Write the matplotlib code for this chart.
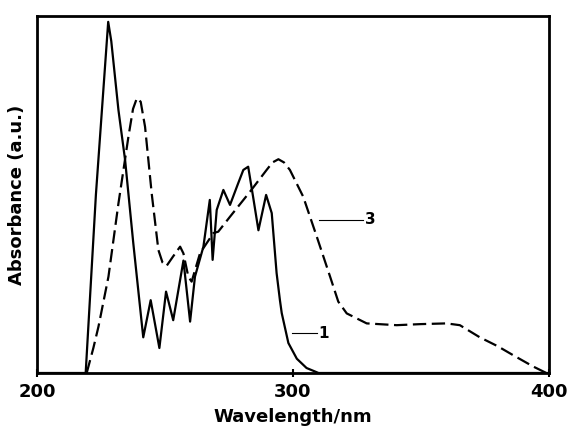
import matplotlib.pyplot as plt

# Curve 1 (solid)
wl_1 = [200, 219, 223, 227.8, 229, 231.8, 234.4, 237.6, 240.9, 241.5, 244.4,
        247.8, 250.4, 253.2, 257.2, 259.8, 261.7, 265, 267.5, 268.6, 270.2,
        272.8, 275.4, 278.5, 280.6, 282.5, 284.5, 286.5, 289.5, 291.7, 293.6,
        294.9, 295.6, 298.2, 301.5, 305.3, 310, 400]
abs_1 = [0, 0, 0.5, 0.984, 0.93, 0.737, 0.597, 0.364, 0.14, 0.10, 0.204,
         0.07, 0.228, 0.148, 0.315, 0.144, 0.27, 0.354, 0.485, 0.317, 0.457,
         0.513, 0.471, 0.53, 0.569, 0.578, 0.49, 0.40, 0.499, 0.448, 0.28,
         0.204, 0.168, 0.084, 0.04, 0.014, 0, 0]

# Curve 3 (dashed)
wl_3 = [219.4, 222, 224, 227.9, 231.8, 235.7, 237.5, 239, 240.5, 242.2, 244.8,
        247.4, 249, 250.6, 253, 255.9, 257.2, 259.1, 260.4, 263.7, 268.9, 270.8,
        275.4, 283.2, 289.7, 292, 294.3, 296.5, 298.8, 304, 309.3, 314.5, 317.7,
        321, 328.8, 340.5, 350, 360, 365.2, 373, 380, 386, 393.9, 399]
abs_3 = [0, 0.07, 0.13, 0.27, 0.475, 0.662, 0.74, 0.77, 0.76, 0.69, 0.503,
         0.345, 0.31, 0.30, 0.325, 0.354, 0.335, 0.27, 0.256, 0.336, 0.392, 0.396,
         0.438, 0.508, 0.569, 0.59, 0.599, 0.59, 0.569, 0.494, 0.382, 0.27, 0.20,
         0.167, 0.139, 0.134, 0.137, 0.139, 0.134, 0.10, 0.075, 0.05, 0.018, 0]

plt.rcParams['font.family'] = ['DejaVu Sans']
plt.rcParams['font.weight'] = 'bold'

fig = plt.figure(figsize=(5.7, 4.36), dpi=100)
ax = fig.add_axes([0.065, 0.1445, 0.898, 0.8185])

ax.plot(wl_1, abs_1, color='black', linewidth=1.6)
ax.plot(wl_3, abs_3, color='black', linewidth=1.6, linestyle=(0, (6, 2.5)))

# curve labels with leader lines
ax.plot([310.3, 327.3], [0.429, 0.429], color='black', linewidth=0.8)
ax.text(328, 0.429, '3', fontsize=11, va='center', ha='left')
ax.plot([299.5, 309.3], [0.112, 0.112], color='black', linewidth=0.8)
ax.text(310, 0.112, '1', fontsize=11, va='center', ha='left')

ax.set_xlim(200, 400)
ax.set_ylim(0, 1)
ax.set_xticks([200, 300, 400])
ax.set_yticks([])
ax.tick_params(axis='x', direction='inout', length=6, width=1.5, labelsize=13, pad=4)
for s in ax.spines.values():
    s.set_linewidth(2)

ax.set_xlabel('Wavelength/nm', fontsize=13, fontweight='bold', labelpad=5)
ax.set_ylabel('Absorbance (a.u.)', fontsize=13, fontweight='bold', labelpad=8)

fig.savefig('out.png', dpi=100)
